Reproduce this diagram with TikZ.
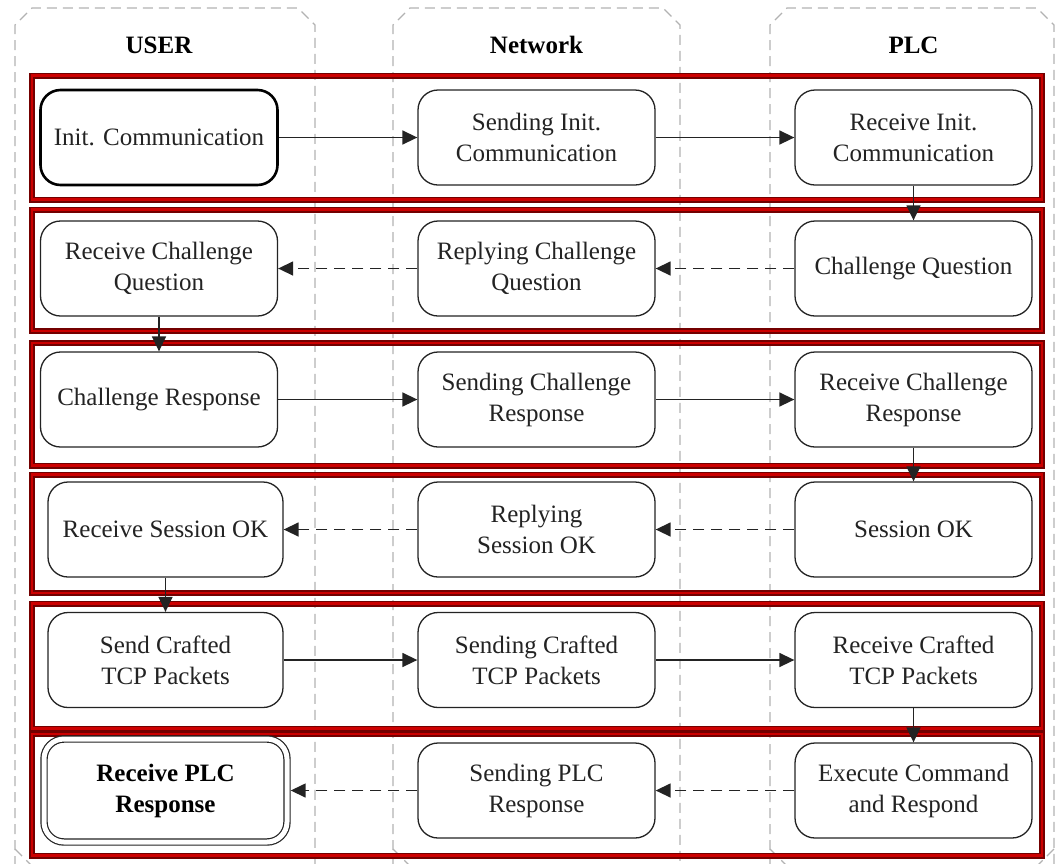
\documentclass[tikz,border=0pt]{standalone}
\usepackage{fontspec}
\setmainfont{Liberation Serif}
\usetikzlibrary{arrows.meta}
\definecolor{lanegray}{RGB}{178,178,178}
\definecolor{rowdark}{RGB}{115,0,0}
\definecolor{rowred}{RGB}{205,0,0}
\definecolor{ink}{RGB}{35,35,35}
\begin{document}
\begin{tikzpicture}[x=1pt,y=-1pt,
  lane/.style={draw=lanegray, line width=1.2pt, dash pattern=on 10pt off 6pt},
  rowframe/.style={draw=rowdark, line width=1.7pt, double=rowred, double distance=2.6pt},
  head/.style={font=\fontsize{25}{31}\selectfont\bfseries, text=black},
  stepbox/.style={draw=ink, line width=1.3pt, fill=white, rounded corners=20pt,
    minimum width=237pt, minimum height=95pt, align=center, inner sep=2pt,
    font=\fontsize{25}{31}\selectfont, text=ink},
  startbox/.style={stepbox, draw=black, line width=2.6pt},
  endbox/.style={stepbox, double, double distance=5pt, line width=1.2pt,
    minimum width=243pt, minimum height=103pt, outer sep=3.7pt,
    font=\fontsize{25}{31}\selectfont\bfseries, text=black},
  flow/.style={draw=ink, line width=1.5pt, -{Triangle[length=15pt,width=14pt]}},
  reply/.style={flow, dash pattern=on 11pt off 7pt}
]
\useasboundingbox (0,0) rectangle (1057,863);
\clip (0,0) rectangle (1057,863);

% swimlanes
\draw[lane] (15,866) -- (15,25) -- (32,8) -- (298,8) -- (315,25) -- (315,866);
\draw[lane] (393,866) -- (393,25) -- (410,8) -- (663,8) -- (680,25) -- (680,866);
\draw[lane] (770,866) -- (770,25) -- (787,8) -- (1037,8) -- (1054,25) -- (1054,866);
\draw[lane] (15,849) -- (32,866);
\draw[lane] (393,849) -- (410,866);
\draw[lane] (770,849) -- (787,866);
\draw[lane] (1054,849) -- (1037,866);

\node[head] (hUser) at (159,45) {USER};
\node[head] (hNet)  at (536.5,45) {Network};
\node[head] (hPlc)  at (913.5,45) {PLC};

% phase frames
\draw[rowframe] (32,75.5) rectangle (1042,199.5);
\draw[rowframe] (32,209.5) rectangle (1042,331);
\draw[rowframe] (32,343) rectangle (1042,465.5);
\draw[rowframe] (32,474.5) rectangle (1042,593);
\draw[rowframe] (32,603.5) rectangle (1042,728.5);
\draw[rowframe] (32,734) rectangle (1042,855.5);

% phase 1
\node[startbox] (u1) at (159,137.5) {Init. Communication};
\node[stepbox]  (n1) at (536.5,137.5) {Sending Init.\\Communication};
\node[stepbox]  (p1) at (913.5,137.5) {Receive Init.\\Communication};
% phase 2
\node[stepbox] (u2) at (159,268.5) {Receive Challenge\\Question};
\node[stepbox] (n2) at (536.5,268.5) {Replying Challenge\\Question};
\node[stepbox] (p2) at (913.5,268.5) {Challenge Question};
% phase 3
\node[stepbox] (u3) at (159,399.5) {Challenge Response};
\node[stepbox] (n3) at (536.5,399.5) {Sending Challenge\\Response};
\node[stepbox] (p3) at (913.5,399.5) {Receive Challenge\\Response};
% phase 4
\node[stepbox, minimum width=235pt] (u4) at (165.5,529.5) {Receive Session OK};
\node[stepbox] (n4) at (536.5,529.5) {Replying\\Session OK};
\node[stepbox] (p4) at (913.5,529.5) {Session OK};
% phase 5
\node[stepbox, minimum width=235pt] (u5) at (165.5,660) {Send Crafted\\TCP Packets};
\node[stepbox] (n5) at (536.5,660) {Sending Crafted\\TCP Packets};
\node[stepbox] (p5) at (913.5,660) {Receive Crafted\\TCP Packets};
% phase 6
\node[endbox]  (u6) at (165.5,790.5) {Receive PLC\\Response};
\node[stepbox] (n6) at (536.5,790.5) {Sending PLC\\Response};
\node[stepbox] (p6) at (913.5,790.5) {Execute Command\\and Respond};

% messages
\draw[flow]  (u1) -- (n1);
\draw[flow]  (n1) -- (p1);
\draw[flow]  (p1) -- (p2);
\draw[reply] (p2) -- (n2);
\draw[reply] (n2) -- (u2);
\draw[flow]  (u2) -- (u3);
\draw[flow]  (u3) -- (n3);
\draw[flow]  (n3) -- (p3);
\draw[flow]  (p3) -- (p4);
\draw[reply] (p4) -- (n4);
\draw[reply] (n4) -- (u4);
\draw[flow]  (u4) -- (u5);
\draw[flow]  (u5) -- (n5);
\draw[flow]  (n5) -- (p5);
\draw[flow]  (p5) -- (p6);
\draw[reply] (p6) -- (n6);
\draw[reply] (n6) -- (u6);
\end{tikzpicture}
\end{document}
